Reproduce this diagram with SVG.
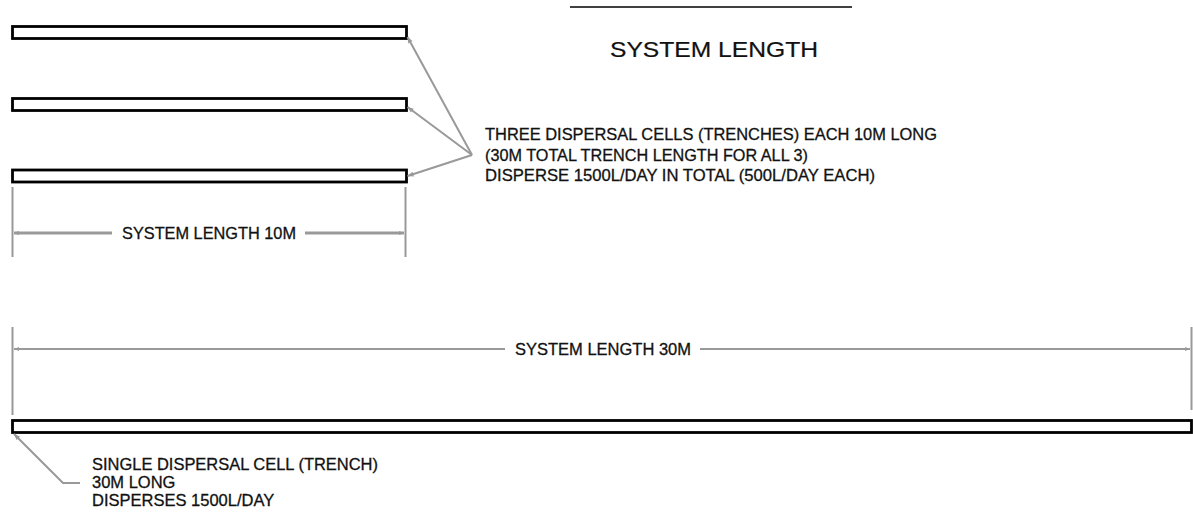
<svg xmlns="http://www.w3.org/2000/svg" width="1193" height="516" viewBox="0 0 1193 516">
<defs>
<style>
.trench{fill:#fff;stroke:#000;stroke-width:2.8}
.lead{fill:none;stroke:#999;stroke-width:2}
.ext{fill:none;stroke:#999;stroke-width:2}
.dim{fill:none;stroke:#999;stroke-width:3}
.t{font-family:"Liberation Sans",Arial,sans-serif;font-size:16.5px;fill:#111;stroke:#111;stroke-width:0.3}
.title{font-family:"Liberation Sans",Arial,sans-serif;font-size:21.5px;fill:#111;stroke:#111;stroke-width:0.2}
</style>
<marker id="arr" viewBox="0 0 10 10" refX="10" refY="5" markerWidth="7" markerHeight="6" markerUnits="userSpaceOnUse" orient="auto-start-reverse">
<path d="M0,1 L10,5 L0,9 Z" fill="#999"/>
</marker>
<marker id="darr" viewBox="0 0 10 10" refX="10" refY="5" markerWidth="14" markerHeight="5" markerUnits="userSpaceOnUse" orient="auto-start-reverse">
<path d="M0,1 L10,5 L0,9 Z" fill="#999"/>
</marker>
</defs>
<g id="title">
<line x1="570" y1="7" x2="852" y2="7" stroke="#000" stroke-width="1.5"/>
<text class="title" x="714" y="57" text-anchor="middle" textLength="208" lengthAdjust="spacingAndGlyphs">SYSTEM LENGTH</text>
</g>
<g id="trench1"><rect class="trench" x="12.5" y="26.5" width="394" height="12"/></g>
<g id="trench2"><rect class="trench" x="12.5" y="98.5" width="394" height="12"/></g>
<g id="trench3"><rect class="trench" x="12.5" y="170" width="394" height="12"/></g>
<g id="long-trench"><rect class="trench" x="12.5" y="420.5" width="1179" height="12"/></g>
<g id="label-three">
<text class="t" x="485" y="140" textLength="452" lengthAdjust="spacingAndGlyphs">THREE DISPERSAL CELLS (TRENCHES) EACH 10M LONG</text>
<text class="t" x="485" y="160.5" textLength="323" lengthAdjust="spacingAndGlyphs">(30M TOTAL TRENCH LENGTH FOR ALL 3)</text>
<text class="t" x="485" y="181" textLength="390" lengthAdjust="spacingAndGlyphs">DISPERSE 1500L/DAY IN TOTAL (500L/DAY EACH)</text>
</g>
<g id="label-single">
<text class="t" x="92" y="470" textLength="286" lengthAdjust="spacingAndGlyphs">SINGLE DISPERSAL CELL (TRENCH)</text>
<text class="t" x="92" y="488">30M LONG</text>
<text class="t" x="92" y="506">DISPERSES 1500L/DAY</text>
</g>
<g id="dim-10m">
<line class="ext" x1="12.5" y1="187" x2="12.5" y2="257"/>
<line class="ext" x1="405.5" y1="187" x2="405.5" y2="257"/>
<text class="t" x="209" y="239" text-anchor="middle" textLength="174" lengthAdjust="spacingAndGlyphs">SYSTEM LENGTH 10M</text>
</g>
<g id="dim-30m">
<line class="ext" x1="12.5" y1="327" x2="12.5" y2="415"/>
<line class="ext" x1="1191.5" y1="327" x2="1191.5" y2="410"/>
<text class="t" x="603" y="355" text-anchor="middle" textLength="176" lengthAdjust="spacingAndGlyphs">SYSTEM LENGTH 30M</text>
</g>
<g id="connectors">
<line class="dim" x1="112" y1="233" x2="14" y2="233" marker-end="url(#darr)"/>
<line class="dim" x1="305" y1="233" x2="404" y2="233" marker-end="url(#darr)"/>
<line class="lead" x1="505" y1="349" x2="14" y2="349" marker-end="url(#darr)"/>
<line class="lead" x1="700" y1="349" x2="1190" y2="349" marker-end="url(#darr)"/>
<line class="lead" x1="472" y1="155" x2="407.5" y2="37" marker-end="url(#arr)"/>
<line class="lead" x1="472" y1="155" x2="407.5" y2="107" marker-end="url(#arr)"/>
<line class="lead" x1="472" y1="155" x2="407.5" y2="176" marker-end="url(#arr)"/>
<polyline class="lead" points="80,483 63,483 14,434" marker-end="url(#arr)"/>
</g>
</svg>
